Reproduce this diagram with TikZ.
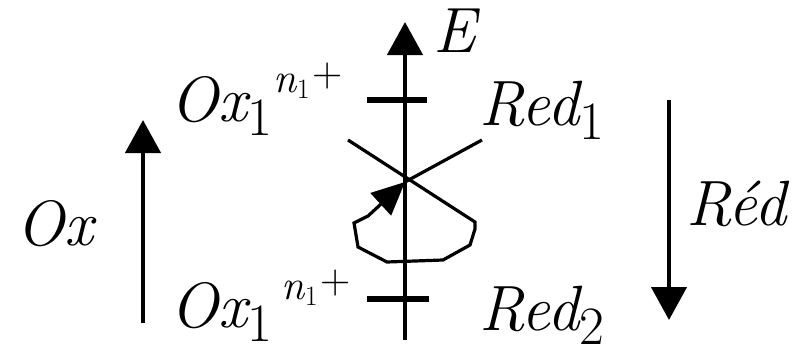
\documentclass[tikz,border=0pt]{standalone}
\usepackage{fontspec}
\usetikzlibrary{arrows.meta}

\newcommand{\lblfont}{\rmfamily\fontsize{64}{70}\selectfont\itshape}
\newcommand{\idxfont}{\rmfamily\fontsize{54}{58}\selectfont\upshape}
\newcommand{\supfont}{\rmfamily\fontsize{42}{46}\selectfont\itshape}
\newcommand{\tinyidx}{\rmfamily\fontsize{28}{30}\selectfont\upshape}

\tikzset{
  axisline/.style={line width=4.5pt, -{Triangle[width=35pt,length=33pt]}},
  tickline/.style={line width=6pt},
  crossline/.style={line width=3.2pt, line join=miter},
  lbl/.style={inner sep=0pt, anchor=base west, font=\lblfont}
}

\begin{document}
\begin{tikzpicture}[x=1pt, y=-1pt]
  \useasboundingbox (0,0) rectangle (801,348);

  % Coordinates
  \coordinate (Ebot) at (405,340);
  \coordinate (Etop) at (405,22);
  \coordinate (T1a) at (367,100);
  \coordinate (T1b) at (427,100);
  \coordinate (T2a) at (367,299);
  \coordinate (T2b) at (429,299);
  \coordinate (X) at (405,182);
  \coordinate (UL) at (348,140);
  \coordinate (UR) at (482,140);
  \coordinate (OxBot) at (143,323);
  \coordinate (OxTop) at (143,120);
  \coordinate (RedTop) at (669,100);
  \coordinate (RedBot) at (669,320);

  % Drawing
  \draw[axisline] (Ebot) -- (Etop);
  \draw[tickline] (T1a) -- (T1b);
  \draw[tickline] (T2a) -- (T2b);
  \draw[crossline] (UR) -- (X);
  \draw[crossline, -{Triangle[width=30pt,length=33pt]}] (UL) -- (475,222) -- (475,229)
    -- (470,245) -- (443,260) -- (387,262) -- (358,247) -- (354,223) -- (368,216) -- (X);
  \draw[axisline] (OxBot) -- (OxTop);
  \draw[axisline] (RedTop) -- (RedBot);

  % Labels
  \node[lbl] (Elbl) at (433,52) {E};
  \node[lbl] (oxlbl) at (16,245) {Ox};
  \node[lbl] (redlbl) at (686,225) {Réd};
  \node[lbl] (ox1) at (170,121) {Ox\raisebox{-14pt}{\idxfont 1}\hspace{2pt}%
    \raisebox{29pt}{\supfont n\raisebox{-6pt}{\tinyidx 1}\hspace{3pt}\upshape\raisebox{6pt}{+}}};
  \node[lbl] (ox2) at (170,327) {Ox\raisebox{-14pt}{\idxfont 1}\hspace{10pt}%
    \raisebox{28pt}{\supfont n\raisebox{-6pt}{\tinyidx 1}\hspace{3pt}\upshape\raisebox{6pt}{+}}};
  \node[lbl] (red1) at (479,125) {Red\raisebox{-14pt}{\idxfont 1}};
  \node[lbl] (red2) at (479,330) {Red\raisebox{-14pt}{\idxfont 2}};
\end{tikzpicture}
\end{document}
